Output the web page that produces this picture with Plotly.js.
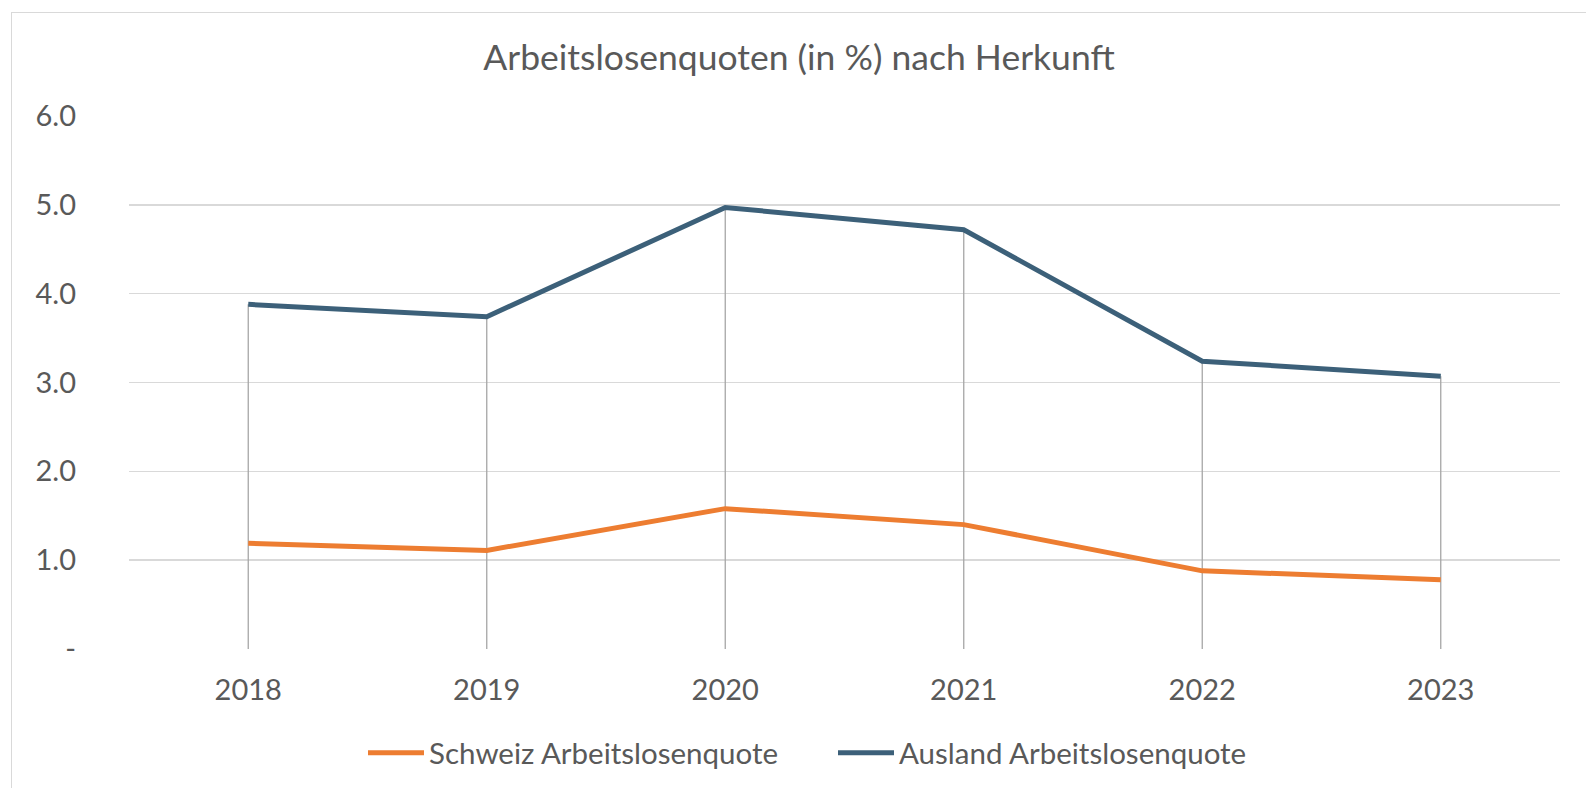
<!DOCTYPE html>
<html>
<head>
<meta charset="utf-8">
<script src="https://cdn.plot.ly/plotly-3.0.1.min.js"></script>
<style>
  html, body { margin: 0; padding: 0; background: #ffffff; overflow: hidden; }
  #wrap { position: relative; width: 1586px; height: 788px; }
  #chart { position: absolute; left: 0; top: 0; width: 1586px; height: 788px; }
  #frame { position: absolute; left: 11px; top: 12px; width: 1590px; height: 800px;
           border: 1.5px solid #d9d9d9; pointer-events: none; box-sizing: border-box; }
</style>
</head>
<body>
<div id="wrap">
  <div id="chart"></div>
  <div id="frame"></div>
</div>
<script>
const years = ['2018', '2019', '2020', '2021', '2022', '2023'];
const schweiz = [1.19, 1.11, 1.58, 1.40, 0.88, 0.78];
const ausland = [3.88, 3.74, 4.97, 4.72, 3.24, 3.07];
const yTickVals = [0, 1, 2, 3, 4, 5, 6];
const yTickText = ['-', '1.0', '2.0', '3.0', '4.0', '5.0', '6.0'];
const titleText = 'Arbeitslosenquoten (in %) nach Herkunft';
const nameSchweiz = 'Schweiz Arbeitslosenquote';
const nameAusland = 'Ausland Arbeitslosenquote';

const FONT = 'Lato, "Open Sans", sans-serif';
const TXT = '#595959';

const traces = [
  {
    x: years, y: ausland, name: nameAusland, type: 'scatter', mode: 'lines',
    line: { color: '#3c6079', width: 5 },
    error_y: { type: 'data', symmetric: false, array: ausland.map(() => 0),
               arrayminus: ausland, color: '#a6a6a6', thickness: 1.3, width: 0 },
    legendrank: 2, hoverinfo: 'skip'
  },
  {
    x: years, y: schweiz, name: nameSchweiz, type: 'scatter', mode: 'lines',
    line: { color: '#ed7d31', width: 5 },
    legendrank: 1, hoverinfo: 'skip'
  }
];

const layout = {
  width: 1586, height: 788,
  paper_bgcolor: 'rgba(0,0,0,0)', plot_bgcolor: 'rgba(0,0,0,0)',
  margin: { l: 128.5, r: 25.5, t: 116, b: 139 },
  font: { family: FONT, color: TXT },
  title: {
    text: titleText, font: { family: FONT, size: 35.5, color: TXT },
    xref: 'container', x: 799 / 1586, xanchor: 'center',
    yref: 'container', y: 1 - 58 / 788, yanchor: 'middle'
  },
  xaxis: {
    type: 'category', range: [-0.5, 5.5],
    showgrid: false, zeroline: false, showline: false, ticks: '',
    tickfont: { family: FONT, size: 29, color: TXT },
    ticklabelstandoff: 21
  },
  yaxis: {
    range: [0, 6], tickvals: yTickVals, ticktext: yTickText,
    showgrid: true, gridcolor: '#d9d9d9', gridwidth: 1.6,
    zeroline: false, showline: false, ticks: '',
    tickfont: { family: FONT, size: 29, color: TXT },
    ticklabelstandoff: 52
  },
  showlegend: true,
  legend: {
    orientation: 'h', xref: 'container', yref: 'container',
    x: 833 / 1586, xanchor: 'center', y: (788 - 753) / 788, yanchor: 'middle',
    font: { family: FONT, size: 29.5, color: TXT },
    itemwidth: 56, tracegroupgap: 0,
    entrywidth: 399, entrywidthmode: 'pixels'
  }
};

Plotly.newPlot('chart', traces, layout, { staticPlot: true, displayModeBar: false });
</script>
</body>
</html>
